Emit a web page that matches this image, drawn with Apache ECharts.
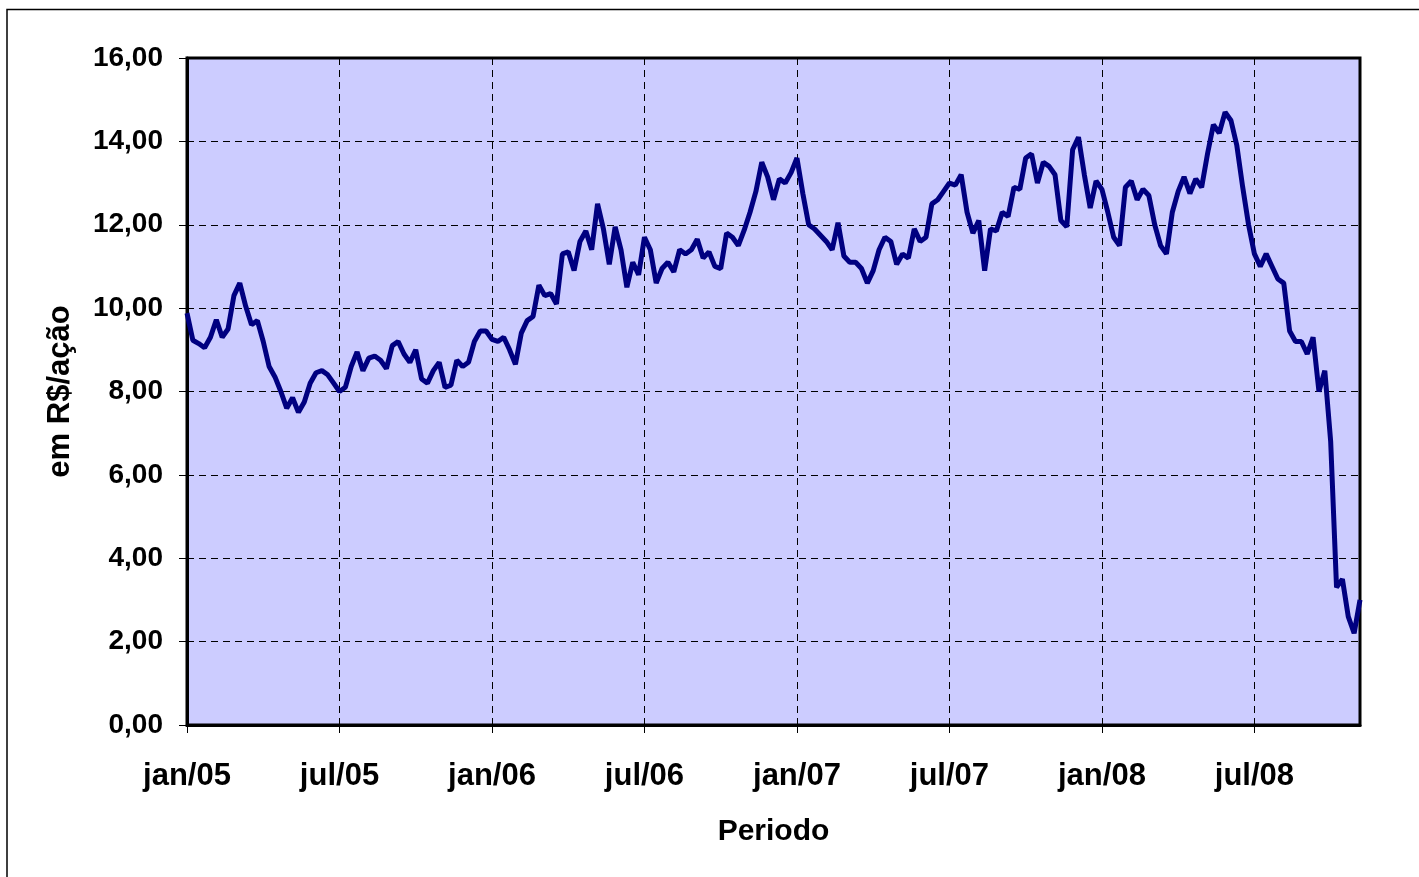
<!DOCTYPE html>
<html>
<head>
<meta charset="utf-8">
<title>Cotação</title>
<script src="https://cdn.jsdelivr.net/npm/echarts@6/dist/echarts.min.js"></script>
<style>
html,body{margin:0;padding:0;background:#fff;}
#chart{width:1419px;height:877px;}
</style>
</head>
<body>
<div id="chart"></div>
<script>
// semanas (segunda-feira) de jan/05 a nov/08
var startDate = "2005-01-03";
var weekCount = 201;
// preço semanal, R$/ação
var prices = [
	9.88, 9.23, 9.15, 9.05, 9.3, 9.72, 9.3, 9.5, 10.3, 10.6,
	10.05, 9.6, 9.7, 9.2, 8.6, 8.35, 8.0, 7.6, 7.85, 7.5,
	7.75, 8.2, 8.45, 8.5, 8.4, 8.2, 8.0, 8.1, 8.6, 8.95,
	8.5, 8.8, 8.85, 8.75, 8.55, 9.1, 9.2, 8.9, 8.7, 9.0,
	8.3, 8.2, 8.5, 8.7, 8.1, 8.15, 8.75, 8.6, 8.7, 9.2,
	9.45, 9.45, 9.25, 9.2, 9.3, 9.0, 8.65, 9.4, 9.7, 9.8,
	10.55, 10.3, 10.35, 10.1, 11.3, 11.35, 10.9, 11.6, 11.85, 11.4,
	12.5, 11.9, 11.05, 11.95, 11.4, 10.5, 11.1, 10.8, 11.7, 11.4,
	10.6, 10.95, 11.1, 10.87, 11.4, 11.3, 11.4, 11.65, 11.2, 11.35,
	11.0, 10.95, 11.8, 11.7, 11.5, 11.87, 12.3, 12.8, 13.5, 13.15,
	12.6, 13.1, 13.0, 13.25, 13.6, 12.75, 12.0, 11.9, 11.75, 11.6,
	11.4, 12.05, 11.25, 11.1, 11.1, 10.95, 10.6, 10.9, 11.4, 11.7,
	11.6, 11.05, 11.3, 11.2, 11.9, 11.6, 11.7, 12.5, 12.6, 12.8,
	13.0, 12.95, 13.2, 12.3, 11.8, 12.1, 10.9, 11.9, 11.85, 12.3,
	12.2, 12.9, 12.85, 13.6, 13.7, 13.0, 13.5, 13.4, 13.2, 12.1,
	11.95, 13.8, 14.1, 13.2, 12.4, 13.05, 12.85, 12.3, 11.7, 11.5,
	12.9, 13.05, 12.6, 12.85, 12.7, 12.0, 11.5, 11.3, 12.3, 12.8,
	13.15, 12.75, 13.1, 12.9, 13.7, 14.4, 14.2, 14.7, 14.5, 13.9,
	12.9, 12.0, 11.3, 11.0, 11.3, 11.0, 10.7, 10.6, 9.45, 9.2,
	9.2, 8.9, 9.3, 8.0, 8.5, 6.8, 3.3, 3.5, 2.6, 2.2, 3.0
];
var tickDates = ["2005-01-01","2005-07-01","2006-01-01","2006-07-01","2007-01-01","2007-07-01","2008-01-01","2008-07-01"];
var tickLabels = ["jan/05","jul/05","jan/06","jul/06","jan/07","jul/07","jan/08","jul/08"];

var DAY = 86400000;
var t0 = Date.parse(startDate + "T00:00:00Z");
var weeks = [];
for (var i = 0; i < weekCount; i++) {
	weeks.push(new Date(t0 + i * 7 * DAY).toISOString().slice(0, 10));
}
// semana mais proxima de cada marca
var tickIdx = {};
for (var k = 0; k < tickDates.length; k++) {
	var d = Date.parse(tickDates[k] + "T00:00:00Z");
	var idx = Math.max(0, Math.round((d - t0) / (7 * DAY)));
	tickIdx[idx] = tickLabels[k];
}
function isTick(index) {
	return tickIdx.hasOwnProperty(index);
}

var font = "'Liberation Sans', Arial, sans-serif";
var chart = echarts.init(document.getElementById("chart"));
var option = {
	animation: false,
	graphic: [{
		type: "rect",
		shape: { x: 7, y: 9.5, width: 1500, height: 1000 },
		style: { fill: "none", stroke: "#000", lineWidth: 1.5 },
		silent: true
	}],
	grid: {
		left: 187,
		right: 59,
		top: 58,
		bottom: 152,
		show: true,
		backgroundColor: "#ccccff",
		borderColor: "#000",
		borderWidth: 3
	},
	xAxis: {
		type: "category",
		boundaryGap: false,
		data: weeks,
		name: "Periodo",
		nameLocation: "middle",
		nameGap: 92,
		nameTextStyle: { fontFamily: font, fontWeight: "bold", fontSize: 30, color: "#000" },
		axisLine: { lineStyle: { color: "#000", width: 3 } },
		axisTick: { interval: isTick, length: 8, lineStyle: { color: "#000", width: 1 } },
		axisLabel: {
			interval: isTick,
			margin: 36,
			fontFamily: font, fontWeight: "bold", fontSize: 31, color: "#000",
			formatter: function (val, index) { return tickIdx[index] || ""; }
		},
		splitLine: { show: true, interval: isTick, lineStyle: { color: "#000", width: 1, type: [7, 5] } }
	},
	yAxis: {
		type: "value",
		min: 0,
		max: 16,
		interval: 2,
		name: "em R$/ação",
		nameLocation: "middle",
		nameGap: 111,
		nameRotate: 90,
		nameTextStyle: { fontFamily: font, fontWeight: "bold", fontSize: 31, color: "#000" },
		axisLine: { show: true, lineStyle: { color: "#000", width: 3 } },
		axisTick: { show: true, length: 8, lineStyle: { color: "#000", width: 1 } },
		axisLabel: {
			margin: 24,
			fontFamily: font, fontWeight: "bold", fontSize: 28, color: "#000",
			formatter: function (v) { return v.toFixed(2).replace(".", ","); }
		},
		splitLine: { lineStyle: { color: "#000", width: 1, type: [7, 5] } }
	},
	series: [{
		type: "line",
		data: prices,
		showSymbol: false,
		smooth: false,
		lineStyle: { color: "#000080", width: 5 },
		itemStyle: { color: "#000080" }
	}]
};
chart.setOption(option);
</script>
</body>
</html>
